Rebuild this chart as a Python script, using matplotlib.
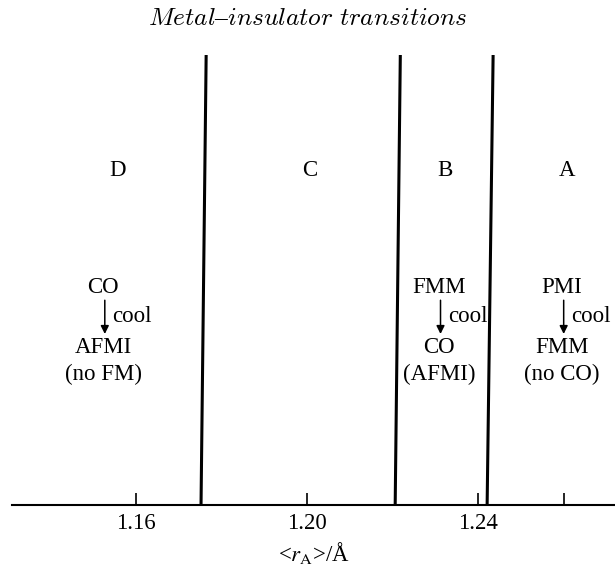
import matplotlib.pyplot as plt

plt.rcParams['font.family'] = 'Liberation Serif'
plt.rcParams['mathtext.fontset'] = 'stix'

# phase boundaries in <r_A> (bottom, top) - drawn slightly tilted as in the original sketch
boundaries = [(1.1752, 1.1764), (1.2206, 1.2218), (1.2421, 1.2435)]

region_names = ['D', 'C', 'B', 'A']
region_x = [1.1556, 1.2007, 1.2323, 1.2608]

# cooling sequences: (x, upper state, lower state, note)
seq_x = [1.1523, 1.2308, 1.2596]
seq_top = ['CO', 'FMM', 'PMI']
seq_bottom = ['AFMI', 'CO', 'FMM']
seq_note = ['(no FM)', '(AFMI)', '(no CO)']

tick_pos = [1.16, 1.20, 1.24, 1.26]
tick_lab = ['1.16', '1.20', '1.24', '']

fig = plt.figure(figsize=(6.15, 5.77), dpi=100)
ax = fig.add_axes([12 / 615, 1 - 505 / 577, 1 - 12 / 615, 450 / 577])
ax.set_xlim(1.131, 1.272)
ax.set_ylim(0, 1)

for x0, x1 in boundaries:
    ax.plot([x0, x1], [0, 1], color='black', lw=2.2, solid_capstyle='butt')

fs = 16.5
for name, x in zip(region_names, region_x):
    ax.text(x, 0.744, name, ha='center', va='center', fontsize=fs)

for x, top, bot, note in zip(seq_x, seq_top, seq_bottom, seq_note):
    ax.text(x, 0.484, top, ha='center', va='center', fontsize=fs)
    ax.annotate('', xy=(x + 0.0004, 0.380), xytext=(x + 0.0004, 0.455),
                arrowprops=dict(arrowstyle='-|>', color='black', lw=1.1,
                                mutation_scale=12, shrinkA=0, shrinkB=0))
    ax.text(x + 0.0021, 0.420, 'cool', ha='left', va='center', fontsize=fs)
    ax.text(x, 0.349, bot, ha='center', va='center', fontsize=fs)
    ax.text(x, 0.291, note, ha='center', va='center', fontsize=fs)

for s in ['top', 'left', 'right']:
    ax.spines[s].set_visible(False)
ax.spines['bottom'].set_linewidth(1.5)
ax.set_yticks([])
ax.set_xticks(tick_pos)
ax.set_xticklabels(tick_lab, fontsize=fs)
ax.tick_params(axis='x', direction='in', length=9, width=1.2, pad=6)
ax.set_xlabel(r'<$r_{\rm A}$>/Å', fontsize=fs, labelpad=4)

fig.text(0.5, 1 - 19 / 577, r'$\mathit{Metal}$–$\mathit{insulator\ transitions}$',
         ha='center', va='center', fontsize=18.3, math_fontfamily='cm')

fig.savefig('out.png', dpi=100)
